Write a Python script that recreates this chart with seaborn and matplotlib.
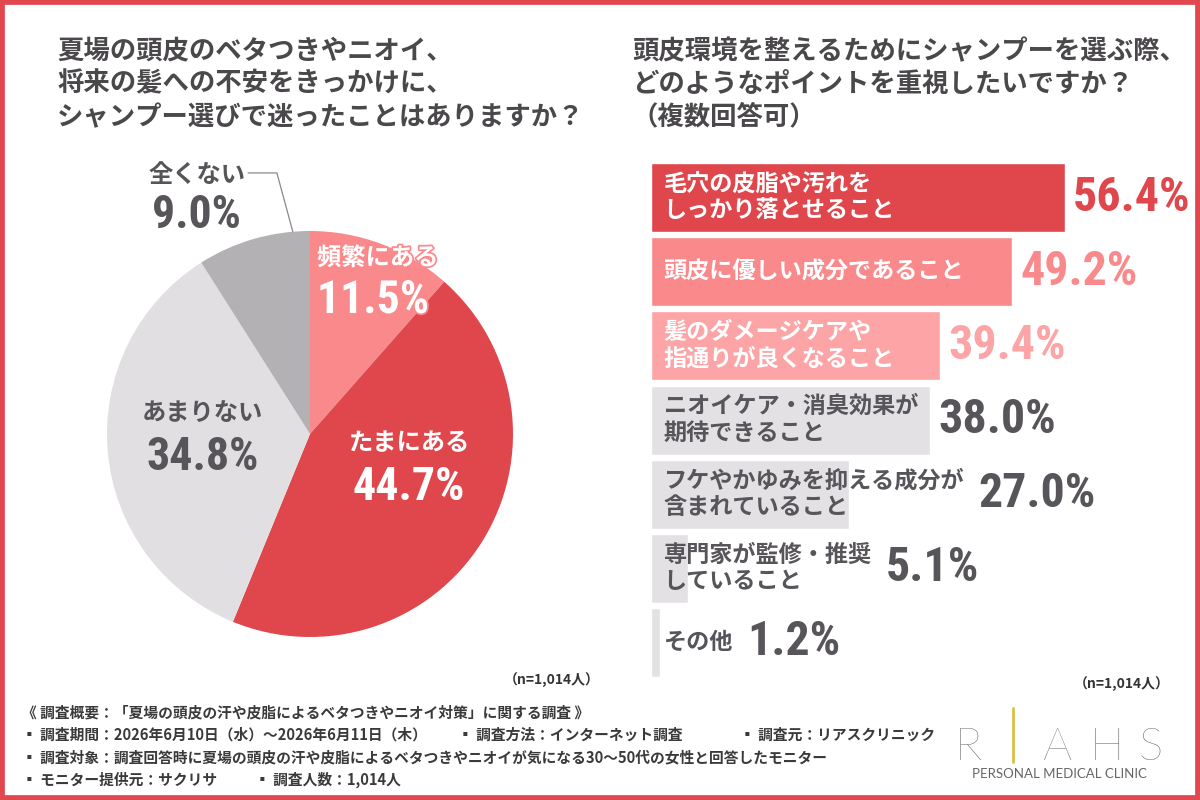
import numpy as np
import seaborn as sns
import matplotlib.pyplot as plt
import matplotlib.patheffects as pe
import pandas as pd
from matplotlib import font_manager
from matplotlib.patches import Rectangle
from matplotlib.lines import Line2D

# left: single answer pie
pie_labels = ["頻繁にある", "たまにある", "あまりない", "全くない"]
pie_values = [11.5, 44.7, 34.8, 9.0]

# right: multiple answer bars
bar_labels = [
    "毛穴の皮脂や汚れを\nしっかり落とせること",
    "頭皮に優しい成分であること",
    "髪のダメージケアや\n指通りが良くなること",
    "ニオイケア・消臭効果が\n期待できること",
    "フケやかゆみを抑える成分が\n含まれていること",
    "専門家が監修・推奨\nしていること",
    "その他",
]
bar_values = [56.4, 49.2, 39.4, 38.0, 27.0, 5.1, 1.2]

title_left = "夏場の頭皮のベタつきやニオイ、\n将来の髪への不安をきっかけに、\nシャンプー選びで迷ったことはありますか？"
title_right = "頭皮環境を整えるためにシャンプーを選ぶ際、\nどのようなポイントを重視したいですか？\n（複数回答可）"
n_label = "（n=1,014人）"

footer = [
    "《 調査概要：「夏場の頭皮の汗や皮脂によるベタつきやニオイ対策」に関する調査 》",
    "▪ 調査期間：2026年6月10日（水）～2026年6月11日（木）",
    "▪ 調査方法：インターネット調査",
    "▪ 調査元：リアスクリニック",
    "▪ 調査対象：調査回答時に夏場の頭皮の汗や皮脂によるベタつきやニオイが気になる30～50代の女性と回答したモニター",
    "▪ モニター提供元：サクリサ",
    "▪ 調査人数：1,014人",
]

RED = "#e0474c"
PINK = "#fa898c"
LIGHT_PINK = "#fca4a6"
GREY_BAR = "#e3e1e4"
DARK = "#58555a"
TITLE = "#4b484c"

pie_colors = [PINK, RED, "#e2dfe2", "#b3b1b4"]
pie_text_colors = ["white", "white", DARK, DARK]
# (x, y of name, y of value, ha) in pie radius units
pie_text_pos = [(0.034, 0.867, 0.66, "left"), (0.488, -0.044, -0.26, "center"),
                (-0.53, 0.103, -0.113, "center"), (-0.557, 1.276, 1.079, "center")]

bar_colors = [RED, PINK, LIGHT_PINK] + [GREY_BAR] * 4
bar_text_colors = ["white"] * 3 + [DARK] * 4
value_colors = [RED, PINK, LIGHT_PINK] + [DARK] * 4

sns.set_theme(style="white")
JP = ["Noto Sans CJK JP", "DejaVu Sans"]
plt.rcParams["font.family"] = JP

# condensed face for the big percentages
fonts = font_manager.fontManager.ttflist
names = {f.name for f in fonts}
num_font, num_stretch, num_scale = "DejaVu Sans", "normal", 0.75
for cand in ["Roboto Condensed", "Liberation Sans Narrow"]:
    if cand in names:
        num_font, num_stretch, num_scale = cand, "normal", 1.0
        break
else:
    if any(f.name == "DejaVu Sans" and f.stretch == "condensed" for f in fonts):
        num_stretch, num_scale = "condensed", 0.85

W, H = 1200, 800
fig = plt.figure(figsize=(12, 8), dpi=100, facecolor="white")

# ---- pie ----
cx, cy, r = 310, 434, 203
ax1 = fig.add_axes([(cx - 1.5 * r) / W, (H - cy - 1.5 * r) / H, 3 * r / W, 3 * r / H])
wedges, _ = ax1.pie(pie_values, colors=pie_colors, startangle=90, counterclock=False,
                    radius=1, wedgeprops=dict(linewidth=0))
ax1.set_xlim(-1.5, 1.5)
ax1.set_ylim(-1.5, 1.5)
ax1.set_axis_off()

for k, (lab, val, col, (x, y1, y2, ha)) in enumerate(
        zip(pie_labels, pie_values, pie_text_colors, pie_text_pos)):
    fx = [pe.withStroke(linewidth=2.5, foreground=PINK)] if k == 0 else None
    ax1.text(x, y1, lab, ha=ha, va="center", fontsize=17.5, fontweight="bold",
             color=col, path_effects=fx)
    ax1.text(x, y2, f"{val:.1f}%", ha=ha, va="center", fontsize=33 * num_scale,
             fontweight="bold", color=col, family=num_font, fontstretch=num_stretch,
             path_effects=fx)

# leader line for the small grey slice
w = wedges[3]
ang = np.deg2rad(w.theta1 + 0.15 * (w.theta2 - w.theta1))
ax1.plot([-0.305, -0.163, np.cos(ang)], [1.286, 1.286, np.sin(ang)],
         color="#8a888b", lw=0.9, solid_joinstyle="miter")

# ---- bars ----
px_per_pct = 7.34
top, pitch = 160.5, 74.15
ax2 = fig.add_axes([651 / W, (H - top - 7 * pitch) / H, 74 * px_per_pct / W, 7 * pitch / H])
df = pd.DataFrame({"item": bar_labels, "pct": bar_values})
sns.barplot(data=df, x="pct", y="item", hue="item", palette=bar_colors, legend=False,
            saturation=1, width=0.93, ax=ax2)
ax2.set_xlim(0, 74)
ax2.set_ylim(6.5, -0.5)
ax2.set_axis_off()

texts = []
for i, (lab, col) in enumerate(zip(bar_labels, bar_text_colors)):
    t = ax2.annotate(lab, xy=(0, i), xytext=(9, 0), textcoords="offset points",
                     ha="left", va="center", fontsize=16.7, fontweight="bold",
                     color=col, linespacing=1.2)
    texts.append(t)

fig.canvas.draw()
rend = fig.canvas.get_renderer()
for i, (t, v, col) in enumerate(zip(texts, bar_values, value_colors)):
    bar_end = ax2.transData.transform((v, i))[0]
    text_end = t.get_window_extent(rend).x1
    x_disp = max(bar_end + 8, text_end + 14)
    x_data = ax2.transData.inverted().transform((x_disp, 0))[0]
    ax2.text(x_data, i, f"{v:.1f}%", ha="left", va="center", fontsize=34.5 * num_scale,
             fontweight="bold", color=col, family=num_font, fontstretch=num_stretch)

# ---- titles / notes ----
fig.text(57 / W, 1 - 38 / H, title_left, ha="left", va="top", fontsize=19,
         fontweight="bold", color=TITLE, linespacing=1.28)
fig.text(632 / W, 1 - 38 / H, title_right, ha="left", va="top", fontsize=19,
         fontweight="bold", color=TITLE, linespacing=1.28)
fig.text(600 / W, 1 - 680 / H, n_label, ha="right", va="center", fontsize=10,
         fontweight="bold", color="#333333")
fig.text(1170 / W, 1 - 685 / H, n_label, ha="right", va="center", fontsize=10,
         fontweight="bold", color="#333333")

foot_pos = [(22, 712), (22, 735), (458, 735), (740, 735), (22, 757), (22, 780), (255, 780)]
for txt, (x, y) in zip(footer, foot_pos):
    fig.text(x / W, 1 - y / H, txt, ha="left", va="center", fontsize=10.6,
             fontweight="bold", color="#3a3a3a")

# ---- logo ----
for ch, x in zip("RAHS", [955, 1042, 1090, 1138]):
    fig.text(x / W, 1 - 760 / H, ch, ha="left", va="baseline", fontsize=33,
             fontweight="light", color="#5a585b", family=["Lato", "DejaVu Sans"])
fig.add_artist(Line2D([1013 / W] * 2, [1 - 708 / H, 1 - 762 / H], color="#d9bf45", lw=2))
fig.text(1059 / W, 1 - 774 / H, "PERSONAL MEDICAL CLINIC", ha="center", va="center",
         fontsize=9.5, color="#666666", family=["Lato", "DejaVu Sans"])

# red frame
fig.add_artist(Rectangle((0, 0), 1, 1, transform=fig.transFigure, fill=False,
                         edgecolor="#e0474f", linewidth=7, zorder=10))

fig.savefig("out.png", dpi=100, facecolor="white")
